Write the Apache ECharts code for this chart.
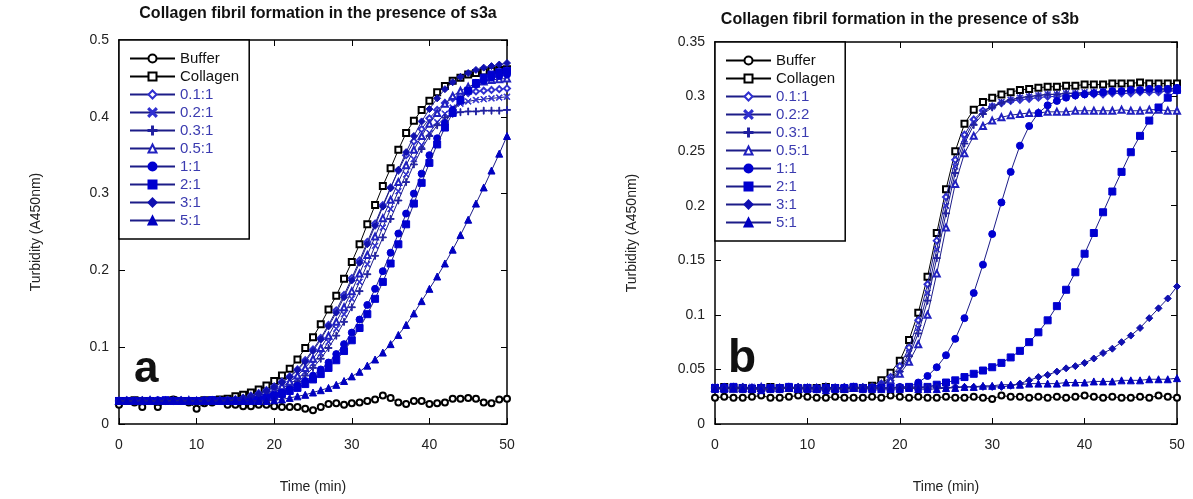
<!DOCTYPE html>
<html><head><meta charset="utf-8">
<script src="https://cdn.jsdelivr.net/npm/echarts@6/dist/echarts.min.js"></script>
<style>html,body{margin:0;padding:0;background:#fff}#c{width:1193px;height:499px}</style>
</head><body><div id="c"></div>
<script>
const TIME = [0,1,2,3,4,5,6,7,8,9,10,11,12,13,14,15,16,17,18,19,20,21,22,23,24,25,26,27,28,29,30,31,32,33,34,35,36,37,38,39,40,41,42,43,44,45,46,47,48,49,50];

const NAMES_A = ['Buffer','Collagen','0.1:1','0.2:1','0.3:1','0.5:1','1:1','2:1','3:1','5:1'];
const NAMES_B = ['Buffer','Collagen','0.1:1','0.2:2','0.3:1','0.5:1','1:1','2:1','3:1','5:1'];

// Panel a (s3a)
const A_BUFFER = [0.025,0.030,0.028,0.022,0.030,0.022,0.030,0.032,0.030,0.028,0.020,0.027,0.028,0.030,0.025,0.025,0.023,0.023,0.025,0.025,0.023,0.022,0.022,0.022,0.020,0.018,0.022,0.026,0.027,0.025,0.027,0.028,0.030,0.032,0.037,0.034,0.028,0.026,0.030,0.030,0.026,0.027,0.028,0.033,0.033,0.034,0.033,0.028,0.027,0.032,0.033];
const A_COLLAGEN = [0.030,0.030,0.031,0.030,0.030,0.029,0.030,0.031,0.030,0.030,0.030,0.031,0.031,0.032,0.033,0.036,0.038,0.041,0.045,0.050,0.056,0.063,0.072,0.084,0.099,0.113,0.130,0.149,0.167,0.189,0.211,0.234,0.260,0.285,0.310,0.333,0.357,0.379,0.395,0.409,0.421,0.432,0.440,0.447,0.451,0.455,0.457,0.459,0.460,0.461,0.462];
const A_R01 = [0.030,0.031,0.030,0.030,0.031,0.030,0.030,0.030,0.031,0.030,0.030,0.030,0.031,0.031,0.031,0.032,0.034,0.037,0.040,0.044,0.049,0.055,0.062,0.071,0.083,0.097,0.112,0.129,0.148,0.168,0.190,0.213,0.237,0.261,0.285,0.308,0.330,0.350,0.368,0.384,0.398,0.409,0.418,0.424,0.428,0.431,0.433,0.434,0.435,0.436,0.437];
const A_R02 = [0.030,0.030,0.031,0.030,0.030,0.030,0.031,0.030,0.030,0.030,0.031,0.030,0.030,0.030,0.031,0.030,0.031,0.033,0.035,0.038,0.042,0.046,0.052,0.059,0.068,0.079,0.092,0.107,0.124,0.143,0.163,0.185,0.208,0.232,0.256,0.280,0.303,0.325,0.345,0.363,0.379,0.393,0.404,0.412,0.417,0.420,0.422,0.423,0.424,0.425,0.426];
const A_R03 = [0.030,0.030,0.030,0.031,0.030,0.030,0.030,0.031,0.030,0.030,0.030,0.030,0.031,0.030,0.030,0.030,0.031,0.032,0.034,0.037,0.040,0.044,0.049,0.055,0.063,0.073,0.085,0.099,0.115,0.133,0.152,0.173,0.195,0.219,0.243,0.267,0.291,0.315,0.338,0.358,0.375,0.389,0.399,0.404,0.406,0.407,0.407,0.408,0.408,0.408,0.409];
const A_R05 = [0.030,0.030,0.030,0.030,0.031,0.030,0.030,0.030,0.030,0.031,0.030,0.030,0.030,0.030,0.030,0.031,0.032,0.034,0.037,0.040,0.044,0.049,0.055,0.063,0.073,0.085,0.099,0.115,0.133,0.152,0.173,0.196,0.220,0.244,0.268,0.292,0.315,0.337,0.357,0.375,0.391,0.405,0.417,0.427,0.434,0.439,0.443,0.446,0.448,0.449,0.450];
const A_R1 = [0.030,0.030,0.030,0.030,0.030,0.031,0.030,0.030,0.030,0.030,0.030,0.031,0.030,0.030,0.030,0.030,0.030,0.031,0.033,0.035,0.038,0.041,0.045,0.050,0.056,0.063,0.071,0.080,0.091,0.104,0.119,0.136,0.155,0.176,0.199,0.223,0.248,0.274,0.300,0.326,0.350,0.372,0.392,0.409,0.423,0.434,0.442,0.447,0.451,0.453,0.455];
const A_R2 = [0.030,0.030,0.030,0.030,0.030,0.030,0.031,0.030,0.030,0.030,0.030,0.030,0.031,0.030,0.030,0.030,0.030,0.031,0.032,0.034,0.036,0.039,0.043,0.047,0.052,0.058,0.065,0.073,0.083,0.095,0.109,0.125,0.143,0.163,0.185,0.209,0.234,0.260,0.287,0.314,0.340,0.364,0.386,0.405,0.421,0.434,0.444,0.451,0.455,0.458,0.460];
const A_R3 = [0.030,0.030,0.030,0.031,0.030,0.030,0.030,0.030,0.031,0.030,0.030,0.030,0.030,0.031,0.031,0.032,0.034,0.036,0.039,0.043,0.048,0.054,0.061,0.070,0.081,0.095,0.110,0.127,0.145,0.165,0.187,0.210,0.234,0.258,0.283,0.307,0.331,0.354,0.375,0.394,0.410,0.424,0.436,0.445,0.452,0.457,0.461,0.464,0.466,0.468,0.470];
const A_R5 = [0.030,0.030,0.030,0.030,0.030,0.030,0.030,0.031,0.030,0.030,0.030,0.030,0.030,0.030,0.030,0.031,0.030,0.030,0.030,0.030,0.031,0.032,0.034,0.036,0.038,0.041,0.044,0.047,0.051,0.056,0.062,0.068,0.076,0.084,0.093,0.104,0.116,0.129,0.144,0.160,0.176,0.192,0.209,0.227,0.246,0.266,0.287,0.308,0.330,0.352,0.375];

// Panel b (s3b)
const B_BUFFER = [0.024,0.025,0.024,0.024,0.025,0.026,0.024,0.024,0.025,0.026,0.025,0.024,0.024,0.025,0.024,0.024,0.024,0.025,0.024,0.026,0.025,0.024,0.025,0.024,0.024,0.025,0.024,0.024,0.025,0.024,0.023,0.026,0.025,0.025,0.024,0.025,0.024,0.025,0.024,0.025,0.026,0.025,0.024,0.025,0.024,0.024,0.025,0.024,0.026,0.025,0.024];
const B_COLLAGEN = [0.033,0.034,0.033,0.033,0.032,0.033,0.034,0.033,0.033,0.032,0.033,0.033,0.034,0.033,0.032,0.033,0.033,0.035,0.040,0.047,0.058,0.077,0.102,0.135,0.175,0.215,0.250,0.275,0.288,0.295,0.299,0.302,0.304,0.306,0.307,0.308,0.309,0.309,0.310,0.310,0.311,0.311,0.311,0.312,0.312,0.312,0.313,0.312,0.312,0.312,0.312];
const B_R01 = [0.033,0.033,0.034,0.033,0.033,0.032,0.033,0.033,0.034,0.033,0.033,0.032,0.033,0.033,0.033,0.034,0.033,0.033,0.037,0.043,0.053,0.070,0.095,0.128,0.168,0.208,0.242,0.265,0.279,0.287,0.291,0.294,0.296,0.297,0.298,0.299,0.300,0.300,0.301,0.301,0.302,0.302,0.302,0.303,0.303,0.303,0.304,0.304,0.304,0.305,0.305];
const B_R02 = [0.034,0.033,0.033,0.033,0.034,0.033,0.032,0.033,0.033,0.033,0.034,0.033,0.033,0.032,0.033,0.033,0.033,0.034,0.036,0.041,0.050,0.065,0.088,0.120,0.160,0.200,0.236,0.261,0.277,0.286,0.291,0.295,0.297,0.299,0.300,0.301,0.302,0.302,0.303,0.303,0.304,0.304,0.305,0.305,0.305,0.306,0.306,0.306,0.307,0.307,0.307];
const B_R03 = [0.033,0.033,0.033,0.034,0.033,0.033,0.033,0.032,0.033,0.034,0.033,0.033,0.033,0.033,0.034,0.033,0.033,0.033,0.035,0.040,0.048,0.062,0.083,0.113,0.152,0.193,0.230,0.257,0.274,0.284,0.290,0.294,0.297,0.299,0.300,0.301,0.302,0.302,0.303,0.303,0.303,0.304,0.304,0.304,0.305,0.305,0.305,0.306,0.306,0.306,0.306];
const B_R05 = [0.033,0.033,0.032,0.033,0.033,0.034,0.033,0.033,0.033,0.032,0.033,0.033,0.034,0.033,0.033,0.033,0.033,0.034,0.036,0.040,0.046,0.057,0.073,0.100,0.138,0.180,0.220,0.248,0.264,0.273,0.278,0.281,0.283,0.284,0.285,0.285,0.286,0.286,0.286,0.287,0.287,0.287,0.287,0.287,0.288,0.287,0.287,0.288,0.288,0.287,0.287];
const B_R1 = [0.033,0.034,0.033,0.033,0.033,0.032,0.033,0.033,0.034,0.033,0.033,0.033,0.032,0.033,0.033,0.034,0.033,0.033,0.033,0.033,0.034,0.034,0.038,0.044,0.052,0.063,0.078,0.097,0.120,0.146,0.174,0.203,0.231,0.255,0.273,0.285,0.292,0.296,0.299,0.301,0.302,0.303,0.304,0.305,0.305,0.306,0.306,0.307,0.307,0.307,0.308];
const B_R2 = [0.033,0.033,0.034,0.033,0.032,0.033,0.033,0.033,0.034,0.033,0.033,0.032,0.033,0.033,0.033,0.034,0.033,0.033,0.033,0.033,0.033,0.034,0.034,0.034,0.036,0.038,0.040,0.043,0.046,0.049,0.052,0.056,0.061,0.067,0.075,0.084,0.095,0.108,0.123,0.139,0.156,0.175,0.194,0.213,0.231,0.249,0.264,0.278,0.290,0.299,0.306];
const B_R3 = [0.033,0.033,0.033,0.034,0.033,0.033,0.032,0.033,0.033,0.034,0.033,0.033,0.033,0.033,0.032,0.033,0.034,0.033,0.033,0.033,0.034,0.034,0.033,0.034,0.034,0.033,0.034,0.034,0.034,0.034,0.034,0.034,0.035,0.037,0.040,0.043,0.045,0.048,0.051,0.053,0.056,0.060,0.065,0.069,0.075,0.081,0.088,0.097,0.106,0.115,0.126];
const B_R5 = [0.032,0.032,0.033,0.032,0.032,0.031,0.032,0.032,0.033,0.032,0.032,0.032,0.031,0.032,0.032,0.033,0.032,0.032,0.032,0.032,0.032,0.033,0.032,0.032,0.032,0.033,0.033,0.034,0.034,0.035,0.035,0.036,0.036,0.036,0.037,0.037,0.037,0.037,0.038,0.038,0.038,0.039,0.039,0.039,0.040,0.040,0.040,0.041,0.041,0.041,0.042];

const VALUES_A = [A_BUFFER,A_COLLAGEN,A_R01,A_R02,A_R03,A_R05,A_R1,A_R2,A_R3,A_R5];
const VALUES_B = [B_BUFFER,B_COLLAGEN,B_R01,B_R02,B_R03,B_R05,B_R1,B_R2,B_R3,B_R5];

const FONT = 'Liberation Sans, Arial, sans-serif';
const BLUE = '#0000d0';
const LINEB = '#1c1c88';
const TXTB = '#3b3bb0';
const XSYM = 'path://M1,0L5,4L9,0L10,1L6,5L10,9L9,10L5,6L1,10L0,9L4,5L0,1Z';
const PSYM = 'path://M4.4,0H5.6V4.4H10V5.6H5.6V10H4.4V5.6H0V4.4H4.4Z';
const STYLES = [
  {symbol:'emptyCircle', size:6, color:'#000', line:'#000'},
  {symbol:'emptyRect', size:6, color:'#000', line:'#000'},
  {symbol:'emptyDiamond', size:6, color:'#3030d0', line:LINEB},
  {symbol:XSYM, size:6, color:'#3030d0', line:LINEB},
  {symbol:PSYM, size:7, color:'#2020a0', line:LINEB},
  {symbol:'emptyTriangle', size:6, color:'#2020c0', line:LINEB},
  {symbol:'circle', size:7, color:BLUE, line:LINEB},
  {symbol:'rect', size:7, color:BLUE, line:LINEB},
  {symbol:'diamond', size:7, color:'#1010b0', line:LINEB},
  {symbol:'triangle', size:7, color:'#0000c0', line:LINEB}
];

function makeSeries(names, values, xi, yi) {
  return names.map((n, k) => ({
    name: n, type: 'line', xAxisIndex: xi, yAxisIndex: yi,
    data: TIME.map((t, i) => [t, values[k][i]]),
    symbol: STYLES[k].symbol, symbolSize: STYLES[k].size, showAllSymbol: true,
    itemStyle: {color: STYLES[k].color, borderColor: STYLES[k].color, borderWidth: 1},
    lineStyle: {color: STYLES[k].line, width: 1},
    emphasis: {disabled: true}, animation: false, z: 2 + k
  }));
}

function xAxes(g) {
  const base = {type:'value', gridIndex:g, min:0, max:50, interval:10,
    axisLine:{show:true, onZero:false, lineStyle:{color:'#000', width:1.5}},
    axisTick:{show:true, inside:true, length:6, lineStyle:{color:'#000', width:1}},
    splitLine:{show:false}};
  return [
    Object.assign({}, base, {position:'bottom', name:'Time (min)', nameLocation:'middle', nameGap:56,
      nameTextStyle:{fontSize:14, color:'#222', fontFamily:FONT},
      axisLabel:{fontSize:14, color:'#222', margin:14, fontFamily:FONT}}),
    Object.assign({}, base, {position:'top', axisLabel:{show:false}})
  ];
}
function yAxes(g, max, step) {
  const base = {type:'value', gridIndex:g, min:0, max:max, interval:step,
    axisLine:{show:true, onZero:false, lineStyle:{color:'#000', width:1.5}},
    axisTick:{show:true, inside:true, length:6, lineStyle:{color:'#000', width:1}},
    splitLine:{show:false}};
  return [
    Object.assign({}, base, {position:'left', name:'Turbidity (A450nm)', nameLocation:'middle', nameGap:76, nameRotate:90,
      nameTextStyle:{fontSize:14, color:'#222', fontFamily:FONT},
      axisLabel:{fontSize:14, color:'#222', margin:10, fontFamily:FONT}}),
    Object.assign({}, base, {position:'right', axisLabel:{show:false}})
  ];
}
function legendData(names) {
  return names.map((n, k) => ({name:n, textStyle:{color: k < 2 ? '#111' : TXTB}}));
}
function legend(names, left, top) {
  return {data: legendData(names), orient:'vertical', left:left, top:top,
    padding:[11,10,11,10], itemGap:3, itemWidth:45, itemHeight:10,
    backgroundColor:'#fff', borderColor:'#000', borderWidth:1.5, borderRadius:0,
    textStyle:{fontSize:15, fontFamily:FONT}, selectedMode:false, z:20};
}

const chart = echarts.init(document.getElementById('c'));
chart.setOption({
  animation: false,
  backgroundColor: '#fff',
  title: [
    {text:'Collagen fibril formation in the presence of s3a', left:313, top:1, textAlign:'center',
      textStyle:{fontSize:16, fontWeight:'bold', color:'#111', fontFamily:FONT}},
    {text:'Collagen fibril formation in the presence of s3b', left:895, top:7, textAlign:'center',
      textStyle:{fontSize:16, fontWeight:'bold', color:'#111', fontFamily:FONT}}
  ],
  grid: [
    {left:119, top:40, width:388, height:385},
    {left:715, top:42, width:462, height:385}
  ],
  xAxis: [...xAxes(0), ...xAxes(1)],
  yAxis: [...yAxes(0, 0.5, 0.1), ...yAxes(1, 0.35, 0.05)],
  legend: [legend(NAMES_A, 119, 40), legend(NAMES_B, 715, 42)],
  series: [...makeSeries(NAMES_A, VALUES_A, 0, 0), ...makeSeries(NAMES_B, VALUES_B, 2, 2)],
  graphic: [
    {type:'text', left:134, top:348, style:{text:'a', font:'bold 44px ' + FONT, fill:'#111'}, z:30},
    {type:'text', left:728, top:336, style:{text:'b', font:'bold 46px ' + FONT, fill:'#111'}, z:30}
  ]
});
</script></body></html>
